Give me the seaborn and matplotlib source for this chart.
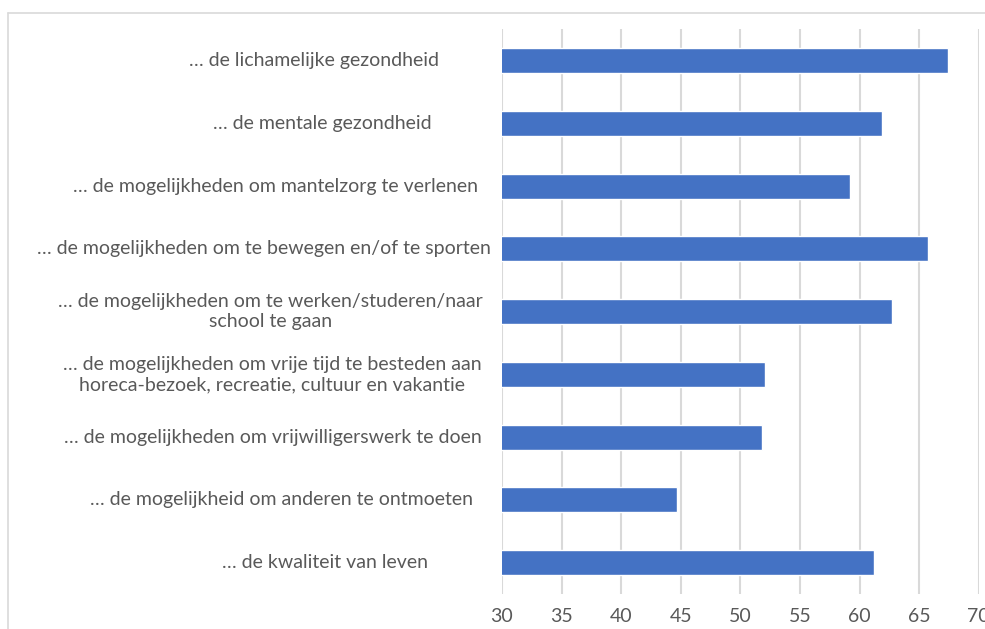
import matplotlib.pyplot as plt
import matplotlib.transforms as mtransforms
import pandas as pd
import seaborn as sns

labels = [
    "… de lichamelijke gezondheid",
    "… de mentale gezondheid",
    "… de mogelijkheden om mantelzorg te verlenen",
    "… de mogelijkheden om te bewegen en/of te sporten",
    "… de mogelijkheden om te werken/studeren/naar\nschool te gaan",
    "… de mogelijkheden om vrije tijd te besteden aan\nhoreca-bezoek, recreatie, cultuur en vakantie",
    "… de mogelijkheden om vrijwilligerswerk te doen",
    "… de mogelijkheid om anderen te ontmoeten",
    "… de kwaliteit van leven",
]
values = [67.4, 61.9, 59.2, 65.7, 62.7, 52.1, 51.8, 44.7, 61.2]
xticks = [30, 35, 40, 45, 50, 55, 60, 65, 70]

sns.set_style("white")
plt.rcParams['font.family'] = ['Lato', 'DejaVu Sans']

TEXT_COLOR = "#595959"
GRID_COLOR = "#d9d9d9"

fig = plt.figure(figsize=(9.85, 6.29), dpi=100)
ax = fig.add_axes([0.5096, 0.0556, 0.4841, 0.8978])

df = pd.DataFrame({"label": labels, "value": values})
sns.barplot(data=df, x="value", y="label", color="#4472C4", saturation=1,
            width=0.4, ax=ax)

ax.set_xlim(xticks[0], xticks[-1])
ax.set_xticks(xticks)
ax.set_ylim(len(labels) - 0.5, -0.5)
ax.xaxis.grid(True, color=GRID_COLOR, lw=1.5)
ax.set_axisbelow(True)
sns.despine(ax=ax, left=True, bottom=True)
ax.set_xlabel("")
ax.set_ylabel("")
ax.tick_params(axis="x", length=0, pad=10, labelsize=14, labelcolor=TEXT_COLOR)
ax.tick_params(axis="y", left=False, labelleft=False)

# category labels, placed like excel does (wider labels sit further right)
fig.canvas.draw()
renderer = fig.canvas.get_renderer()
base = mtransforms.blended_transform_factory(ax.transAxes, ax.transData)
for i, lab in enumerate(labels):
    t = ax.text(0, i, lab, transform=base, ha="right", va="center",
                multialignment="center", fontsize=14, color=TEXT_COLOR,
                linespacing=1.25)
    w = t.get_window_extent(renderer).width
    t.set_transform(mtransforms.offset_copy(base, fig=fig, x=-125 + w / 4,
                                            y=0, units="dots"))

# chart area border (top and left visible)
fig.add_artist(plt.Line2D([8 / 985, 1], [1 - 13 / 629] * 2,
                          transform=fig.transFigure, color=GRID_COLOR, lw=1.2))
fig.add_artist(plt.Line2D([8 / 985] * 2, [0, 1 - 13 / 629],
                          transform=fig.transFigure, color=GRID_COLOR, lw=1.2))

fig.savefig("out.png", dpi=100)
